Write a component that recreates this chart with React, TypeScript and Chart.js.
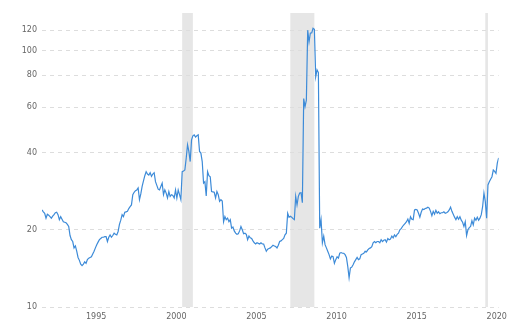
import React, { useEffect, useRef } from "react";
import { Chart, registerables } from "chart.js";

Chart.register(...registerables);

// Monthly series, first value = June 1992
const START_YEAR = 1992 + 5 / 12;
const VALUES: number[] = [
  23.9, 23.5, 23.2, 22.2, 23.0, 22.8, 22.5, 22.2, 22.6, 22.9, 23.3, 23.4,
  22.9, 21.9, 22.5, 22.0, 21.5, 21.4, 21.3, 21.0, 20.6, 19.0, 18.3, 18.0,
  17.0, 17.3, 16.5, 15.6, 15.2, 14.7, 14.5, 14.7, 15.0, 14.8, 15.3, 15.5,
  15.6, 15.7, 16.1, 16.5, 17.0, 17.5, 17.9, 18.3, 18.5, 18.7, 18.7, 18.8,
  18.8, 18.0, 18.7, 19.1, 18.7, 19.0, 19.4, 19.2, 19.1, 19.7, 21.0, 21.8,
  22.9, 22.5, 23.4, 23.5, 23.6, 24.2, 24.6, 25.0, 27.4, 28.0, 28.4, 28.6,
  29.1, 26.2, 27.6, 29.5, 31.0, 32.5, 33.7, 33.0, 32.7, 33.4, 32.3, 33.0,
  33.4, 30.8, 29.8, 28.8, 28.6, 29.5, 30.4, 27.4, 28.6, 27.8, 26.6, 28.2,
  27.0, 27.4, 27.2, 26.6, 28.6, 26.6, 28.6, 27.4, 26.2, 33.7, 33.9, 34.2,
  38.0, 42.9, 40.4, 36.9, 44.8, 46.5, 46.9, 46.0, 46.5, 46.9, 40.4, 39.8,
  36.9, 30.4, 30.8, 27.1, 33.7, 32.5, 32.2, 28.2, 28.1, 28.0, 26.6, 28.2,
  27.4, 25.8, 26.2, 25.9, 21.5, 22.5, 21.9, 22.2, 21.5, 21.9, 20.3, 20.5,
  19.8, 19.4, 19.2, 19.3, 19.8, 20.6, 20.0, 19.3, 19.4, 19.2, 18.3, 18.9,
  18.6, 18.5, 18.1, 17.8, 17.6, 17.8, 17.7, 17.6, 17.8, 17.6, 17.6, 17.0,
  16.5, 16.8, 16.9, 17.0, 17.2, 17.4, 17.3, 17.2, 17.0, 17.4, 18.0, 18.1,
  18.3, 18.5, 19.1, 19.4, 23.2, 22.4, 22.6, 22.4, 22.1, 21.9, 27.0, 25.0,
  27.0, 27.8, 27.9, 25.5, 65.0, 60.4, 64.0, 120.0, 108.0, 117.0, 117.0, 122.0,
  121.0, 79.0, 84.0, 82.0, 20.3, 21.9, 17.8, 18.9, 17.5, 17.0, 16.5, 16.0,
  15.4, 15.8, 15.7, 14.8, 15.3, 15.7, 15.5, 16.2, 16.3, 16.2, 16.2, 16.0,
  15.6, 14.4, 13.0, 14.2, 14.3, 14.6, 15.0, 15.3, 15.6, 15.3, 15.4, 16.0,
  16.1, 16.2, 16.5, 16.4, 16.7, 16.9, 17.0, 17.2, 17.8, 18.0, 17.8, 18.0,
  18.0, 17.8, 18.3, 18.0, 18.2, 18.3, 17.9, 18.5, 18.3, 18.4, 18.9, 18.6,
  19.1, 18.8, 19.2, 19.4, 20.0, 20.2, 20.6, 20.9, 21.2, 21.5, 22.0, 21.2,
  22.5, 22.0, 21.9, 23.9, 24.0, 23.9, 23.2, 22.4, 23.4, 24.1, 24.0, 24.2,
  24.3, 24.5, 24.3, 23.6, 22.7, 23.6, 23.0, 23.8, 23.2, 23.5, 23.1, 23.3,
  23.3, 23.5, 23.2, 23.3, 23.5, 23.9, 24.5, 23.6, 23.0, 22.4, 21.9, 22.5,
  22.0, 22.5, 21.8, 21.4, 20.6, 21.5, 19.0, 20.0, 20.4, 20.6, 21.7, 20.9,
  22.2, 21.8, 22.4, 21.8, 22.2, 22.9, 24.6, 27.8, 25.8, 22.2, 29.9, 30.8,
  31.5, 32.2, 34.2, 33.8, 33.2, 36.4, 38.1,
];

// Recession periods (decimal years)
const RECESSION_STARTS = [2001 + 2 / 12, 2007 + 11 / 12, 2020 + 1 / 12];
const RECESSION_ENDS = [2001 + 10 / 12, 2009 + 5 / 12, 2020 + 3 / 12];

const X_TICK_YEARS = [1995, 2000, 2005, 2010, 2015, 2020];
const X_TICK_OFFSET = 0.8;
const Y_TICKS = [10, 20, 40, 60, 80, 100, 120];
const Y_MIN = 10;
const Y_MAX = 140;

const recessionPlugin = {
  id: "recessions",
  beforeDraw(chart: any) {
    const { ctx, chartArea, scales } = chart;
    const xs = scales.x;
    ctx.save();
    ctx.fillStyle = "#e6e6e6";
    RECESSION_STARTS.forEach((s, k) => {
      const x1 = xs.getPixelForValue(s);
      const x2 = xs.getPixelForValue(RECESSION_ENDS[k]);
      ctx.fillRect(x1, chartArea.top, Math.max(2, x2 - x1), chartArea.bottom - chartArea.top);
    });
    ctx.restore();
  },
};

export default function App() {
  const ref = useRef<HTMLCanvasElement | null>(null);

  useEffect(() => {
    if (!ref.current) return;
    const points = VALUES.map((v, i) => ({ x: START_YEAR + i / 12, y: v }));
    const font = { family: "'DejaVu Sans', Verdana, sans-serif", size: 8 };
    const chart = new Chart(ref.current, {
      type: "line",
      data: {
        datasets: [
          {
            data: points,
            borderColor: "#3d8bd8",
            borderWidth: 1.2,
            pointRadius: 0,
            tension: 0,
            fill: false,
          },
        ],
      },
      options: {
        animation: false,
        responsive: true,
        maintainAspectRatio: false,
        layout: { padding: { top: 13, right: 12.7, bottom: 0, left: 0 } },
        plugins: { legend: { display: false }, tooltip: { enabled: false } },
        scales: {
          x: {
            type: "linear",
            min: START_YEAR,
            max: START_YEAR + (VALUES.length - 1) / 12,
            grid: { display: false, drawTicks: false },
            border: { display: false },
            afterBuildTicks: (scale: any) => {
              scale.ticks = X_TICK_YEARS.map((y) => ({ value: y + X_TICK_OFFSET }));
            },
            afterFit: (scale: any) => {
              scale.height = 17;
            },
            ticks: {
              autoSkip: false,
              maxRotation: 0,
              padding: 5,
              color: "#666",
              font,
              callback: (_v: any, index: number) => String(X_TICK_YEARS[index]),
            },
          },
          y: {
            type: "logarithmic",
            min: Y_MIN,
            max: Y_MAX,
            border: { display: false, dash: [4, 4] },
            grid: {
              color: "#dddddd",
              lineWidth: 1,
              drawTicks: false,
            },
            afterBuildTicks: (scale: any) => {
              scale.ticks = Y_TICKS.map((v) => ({ value: v }));
            },
            afterFit: (scale: any) => {
              scale.width = 42;
            },
            ticks: {
              padding: 5,
              color: "#666",
              font,
              autoSkip: false,
              callback: (v: any) => String(v),
            },
          },
        },
      } as any,
      plugins: [recessionPlugin],
    });
    return () => chart.destroy();
  }, []);

  return (
    <div style={{ position: "fixed", left: 0, top: 0, width: 512, height: 324, background: "#fff" }}>
      <canvas ref={ref} />
    </div>
  );
}
